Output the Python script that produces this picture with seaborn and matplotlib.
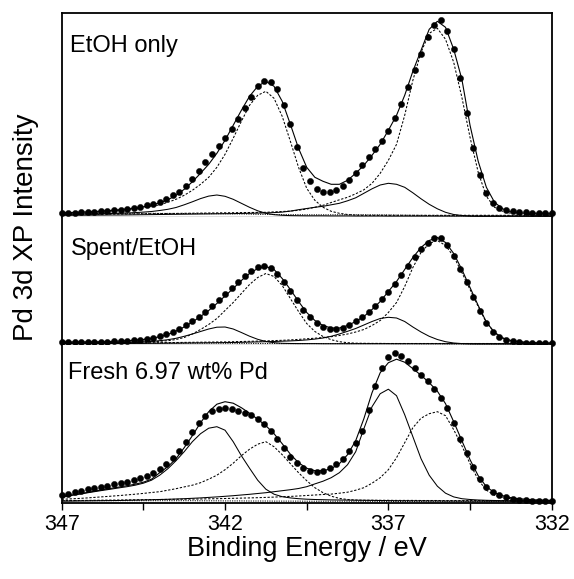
import numpy as np
import pandas as pd
import matplotlib
matplotlib.use("Agg")
import matplotlib.pyplot as plt
import seaborn as sns

# ---------------- energy axes (eV) ----------------
E_DATA = [347.0, 346.8, 346.6, 346.4, 346.2, 346.0, 345.8, 345.6, 345.4, 345.2,
          345.0, 344.8, 344.6, 344.4, 344.2, 344.0, 343.8, 343.6, 343.4, 343.2,
          343.0, 342.8, 342.6, 342.4, 342.2, 342.0, 341.8, 341.6, 341.4, 341.2,
          341.0, 340.8, 340.6, 340.4, 340.2, 340.0, 339.8, 339.6, 339.4, 339.2,
          339.0, 338.8, 338.6, 338.4, 338.2, 338.0, 337.8, 337.6, 337.4, 337.2,
          337.0, 336.8, 336.6, 336.4, 336.2, 336.0, 335.8, 335.6, 335.4, 335.2,
          335.0, 334.8, 334.6, 334.4, 334.2, 334.0, 333.8, 333.6, 333.4, 333.2,
          333.0, 332.8, 332.6, 332.4, 332.2, 332.0]
E_FIT = [347.00, 346.75, 346.50, 346.25, 346.00, 345.75, 345.50, 345.25,
         345.00, 344.75, 344.50, 344.25, 344.00, 343.75, 343.50, 343.25,
         343.00, 342.75, 342.50, 342.25, 342.00, 341.75, 341.50, 341.25,
         341.00, 340.75, 340.50, 340.25, 340.00, 339.75, 339.50, 339.25,
         339.00, 338.75, 338.50, 338.25, 338.00, 337.75, 337.50, 337.25,
         337.00, 336.75, 336.50, 336.25, 336.00, 335.75, 335.50, 335.25,
         335.00, 334.75, 334.50, 334.25, 334.00, 333.75, 333.50, 333.25,
         333.00, 332.75, 332.50, 332.25, 332.00]

# ---------------- EtOH only ----------------
TOP_DATA = [4.5, 4.6, 4.8, 5.0, 5.3, 5.6, 6.0, 6.5, 7.0, 7.5,
            8.2, 9.2, 10.5, 12, 13.8, 15.8, 18.5, 22, 25.5, 31,
            38, 46, 55, 63, 71, 79.5, 88.5, 98, 109, 120,
            131, 136, 135, 128, 112, 93, 70, 49, 36, 28,
            25, 25, 27, 31, 37, 44, 52, 60, 68, 76,
            86, 99, 113, 130, 147, 163, 180, 192, 197, 186,
            168, 139, 104, 69, 42, 24, 14, 9.5, 7.5, 6.2,
            5.5, 5.0, 4.8, 4.6, 4.4, 4.3]
TOP_ENV = [4.5, 4.7, 5.0, 5.3, 5.7, 6.2, 6.8, 7.4,
           8.2, 9.2, 10.5, 12.3, 14.5, 17.5, 22, 28,
           35.5, 44, 53, 64, 77, 92, 107, 121,
           131, 136, 131, 116, 93, 69, 50, 40,
           36, 33, 33, 37, 44, 52, 62, 73,
           87, 102, 122, 146, 167, 188, 196, 190,
           168, 138, 92, 56, 30, 15, 8.5, 5.5,
           4.5, 4.0, 4.0, 4.0, 4.0]
TOP_D1 = [3.8, 4.0, 4.2, 4.6, 5.0, 5.6, 6.3, 7.0,
          7.6, 8.6, 9.8, 11.0, 12.5, 15, 18, 22,
          27, 33, 40, 50, 63, 79, 96, 112,
          122, 126, 119, 101, 76, 50, 29, 17,
          10, 6, 4, 2.8, 2.2, 2.0, 2.0, 2.0,
          2.0, 2.0, 2.0, 2.0, 2.0, 2.0, 2.0, 2.0,
          2.0, 2.0, 2.0, 2.0, 2.0, 2.0, 2.0, 2.0,
          2.0, 2.0, 2.0, 2.0, 2.0]
TOP_D2 = [2.5, 2.6, 2.7, 2.8, 2.9, 3.0, 3.1, 3.2,
          3.3, 3.4, 3.5, 3.6, 3.7, 3.8, 3.9, 4.0,
          4.1, 4.2, 4.3, 4.4, 4.5, 4.6, 4.7, 4.8,
          4.9, 5.0, 5.4, 5.8, 6.2, 7.0, 8.3, 10,
          12, 14.8, 17.5, 20, 23.5, 27.5, 34, 44,
          57, 73, 102, 137, 165, 184, 189, 178,
          155, 120, 80, 45, 21, 10, 6, 4.0,
          3.2, 2.8, 2.6, 2.5, 2.5]
TOP_S1 = [3.0, 3.1, 3.2, 3.3, 3.4, 3.6, 3.8, 4.0,
          4.3, 4.7, 5.2, 5.8, 6.8, 8.0, 9.8, 12.5,
          15.5, 18.7, 21.2, 22.3, 21.0, 18.0, 14.0, 10.0,
          6.5, 4.0, 2.6, 2.0, 1.7, 1.6, 1.5, 1.5,
          1.5, 1.4, 1.4, 1.4, 1.3, 1.3, 1.3, 1.3,
          1.2, 1.2, 1.2, 1.2, 1.2, 1.2, 1.2, 1.2,
          1.2, 1.2, 1.2, 1.2, 1.2, 1.2, 1.2, 1.2,
          1.2, 1.2, 1.2, 1.2, 1.2]
TOP_S2 = [2.0, 2.0, 2.1, 2.1, 2.2, 2.2, 2.3, 2.3,
          2.4, 2.5, 2.6, 2.7, 2.8, 2.9, 3.0, 3.1,
          3.2, 3.3, 3.4, 3.5, 3.6, 3.7, 3.9, 4.0,
          4.2, 4.4, 4.7, 5.2, 6.2, 7.6, 8.8, 10.0,
          11.0, 12.5, 14.0, 16.5, 19.5, 24, 28.5, 32.3,
          34, 33, 30, 24.5, 18.5, 13, 8.5, 5.0,
          2.8, 1.8, 1.2, 1.0, 1.0, 1.0, 1.0, 1.0,
          1.0, 1.0, 1.0, 1.0, 1.0]
TOP_BG = [4.0, 4.0, 4.0, 4.0, 4.0, 4.0, 4.0, 4.0,
          4.0, 4.0, 4.0, 4.0, 3.9, 3.9, 3.8, 3.8,
          3.7, 3.7, 3.6, 3.6, 3.5, 3.4, 3.3, 3.2,
          3.0, 2.9, 2.8, 2.7, 2.6, 2.6, 2.5, 2.5,
          2.5, 2.5, 2.5, 2.5, 2.5, 2.5, 2.4, 2.4,
          2.3, 2.2, 2.1, 2.0, 1.9, 1.8, 1.7, 1.6,
          1.5, 1.5, 1.5, 1.5, 1.5, 1.5, 1.5, 1.5,
          1.5, 1.5, 1.5, 1.5, 1.5]

# ---------------- Spent/EtOH ----------------
MID_DATA = [2.2, 2.3, 2.3, 2.4, 2.5, 2.6, 2.7, 2.9, 3.1, 3.4,
            3.8, 4.3, 5.0, 5.8, 7.0, 8.5, 10.5, 13, 16, 19.5,
            24, 28, 33, 38.5, 45, 51, 57, 63, 69, 74,
            77.5, 78.5, 76.5, 71, 63, 54, 45, 35, 27.5, 22,
            17.5, 15.3, 15.5, 17, 20, 23.5, 27.5, 32.5, 38.5, 45.5,
            53, 61, 70, 79, 88, 96, 102, 106.5, 106.5, 100,
            89, 76, 63, 48, 34, 21.5, 13, 8, 5, 3.5,
            2.6, 2.0, 1.8, 1.6, 1.4, 1.3]
MID_ENV = [2.5, 2.5, 2.6, 2.6, 2.7, 2.8, 3.0, 3.3,
           3.7, 4.2, 5.0, 6.2, 7.8, 10, 13.5, 17.5,
           22.5, 28, 34, 41, 48.5, 56, 64, 71,
           76, 78, 75, 66, 55, 43, 32, 24,
           19, 16.5, 16.5, 19, 23, 28, 35, 43,
           53, 63, 75, 87, 97, 104, 107, 102,
           91, 75, 57, 39, 22.5, 12, 6.5, 4,
           2.8, 2.2, 1.8, 1.6, 1.5]
MID_D1 = [1.5, 1.5, 1.6, 1.6, 1.7, 1.8, 1.9, 2.0,
          2.1, 2.3, 2.5, 2.8, 3.2, 3.8, 5.0, 7.0,
          10.5, 15, 20, 26, 34, 42, 51, 60,
          67, 71, 68, 59, 46, 33, 21, 13,
          8, 4.8, 2.8, 1.8, 1.3, 1.2, 1.1, 1.1,
          1.0, 1.0, 1.0, 1.0, 1.0, 1.0, 1.0, 1.0,
          1.0, 1.0, 1.0, 1.0, 1.0, 1.0, 1.0, 1.0,
          1.0, 1.0, 1.0, 1.0, 1.0]
MID_D2 = [1.0, 1.0, 1.1, 1.1, 1.2, 1.2, 1.3, 1.3,
          1.4, 1.5, 1.6, 1.7, 1.8, 1.9, 2.0, 2.1,
          2.2, 2.3, 2.4, 2.5, 2.6, 2.8, 3.0, 3.2,
          3.4, 3.6, 3.9, 4.2, 4.6, 5.1, 5.7, 6.3,
          7.0, 7.8, 9.0, 10.5, 12.5, 15, 19, 24,
          32, 42, 58, 77, 92, 101, 104, 99,
          88, 72, 55, 38, 22, 12, 6.5, 3.8,
          2.5, 1.8, 1.4, 1.2, 1.1]
MID_S1 = [1.5, 1.5, 1.5, 1.6, 1.6, 1.7, 1.8, 1.9,
          2.0, 2.3, 2.6, 3.1, 3.8, 4.8, 6.2, 8.2,
          10.5, 13, 15.5, 17.3, 17.5, 15.5, 12, 8.3,
          5.2, 3.0, 1.8, 1.2, 1.0, 0.9, 0.9, 0.9,
          0.8, 0.8, 0.8, 0.8, 0.8, 0.8, 0.8, 0.8,
          0.8, 0.8, 0.8, 0.8, 0.8, 0.8, 0.8, 0.8,
          0.8, 0.8, 0.8, 0.8, 0.8, 0.8, 0.8, 0.8,
          0.8, 0.8, 0.8, 0.8, 0.8]
MID_S2 = [0.8, 0.8, 0.8, 0.9, 0.9, 0.9, 1.0, 1.0,
          1.0, 1.1, 1.1, 1.2, 1.2, 1.3, 1.3, 1.4,
          1.5, 1.6, 1.7, 1.8, 1.9, 2.0, 2.2, 2.4,
          2.6, 2.8, 3.0, 3.3, 3.6, 4.0, 4.6, 5.4,
          6.5, 8.2, 10.5, 13.2, 16, 19.5, 23, 26,
          27.2, 26.5, 23, 17.5, 12.5, 8.2, 5.0, 2.8,
          1.5, 0.9, 0.6, 0.5, 0.5, 0.5, 0.5, 0.5,
          0.5, 0.5, 0.5, 0.5, 0.5]
MID_BG = [1.5, 1.5, 1.5, 1.5, 1.5, 1.5, 1.5, 1.5,
          1.5, 1.5, 1.5, 1.5, 1.5, 1.4, 1.4, 1.4,
          1.4, 1.3, 1.3, 1.3, 1.2, 1.2, 1.1, 1.1,
          1.0, 1.0, 1.0, 0.9, 0.9, 0.9, 0.9, 0.9,
          0.9, 0.9, 0.9, 0.9, 0.9, 0.9, 0.9, 0.9,
          0.9, 0.8, 0.8, 0.8, 0.7, 0.7, 0.7, 0.6,
          0.6, 0.6, 0.6, 0.6, 0.6, 0.6, 0.6, 0.6,
          0.6, 0.6, 0.6, 0.6, 0.6]

# ---------------- Fresh 6.97 wt% Pd ----------------
BOT_DATA = [7.7, 9, 10.5, 12, 13.4, 14.6, 16, 17.2, 18.5, 19.8,
            21, 22.5, 24.5, 27, 30, 34, 39, 45, 52, 61,
            71, 80, 87, 91.5, 94, 94.5, 93.5, 92, 90, 87.5,
            84, 78.5, 72, 64, 55, 46, 40, 35, 32, 31,
            32, 34.5, 38.5, 44, 52, 60, 72, 93, 117, 135,
            146, 149.5, 147, 141.5, 135, 128, 121.5, 114, 105, 95,
            80, 64, 49.5, 35.5, 24, 16, 11, 8, 5.5, 4,
            3.2, 2.6, 2.2, 2.0, 1.8, 1.7]
BOT_ENV = [5.5, 7, 8.5, 10, 11.5, 13, 14.3, 15.6,
           17, 18.5, 20.5, 23.5, 30, 36, 44, 55,
           67, 80, 91, 98.5, 101, 99.5, 95, 89.5,
           83.5, 77, 69, 59, 48.5, 40, 34.5, 32,
           32, 34, 39, 48, 62, 84, 110, 130,
           140, 143.5, 140.5, 134, 127.5, 120, 111.5, 99,
           81, 62, 43, 27, 16, 10, 7, 5,
           4, 3.3, 2.8, 2.5, 2.3]
BOT_SA = [6.5, 7.5, 8.5, 9.7, 11, 12.3, 13.5, 14.8,
          16, 17.5, 19.5, 22.5, 27.5, 34, 42, 51,
          61, 69, 74.5, 76, 72.5, 61, 47, 34.5,
          22.5, 13.5, 8.5, 6, 4.8, 4.0, 3.5, 3.2,
          3.0, 2.8, 2.7, 2.6, 2.5, 2.4, 2.3, 2.2,
          2.1, 2.0, 2.0, 1.9, 1.9, 1.8, 1.8, 1.7,
          1.7, 1.6, 1.6, 1.6, 1.5, 1.5, 1.5, 1.5,
          1.5, 1.5, 1.5, 1.5, 1.5]
BOT_SB = [1.5, 1.6, 1.7, 1.8, 1.9, 2.0, 2.1, 2.2,
          2.4, 2.6, 2.8, 3.0, 3.2, 3.4, 3.7, 4.0,
          4.4, 4.8, 5.3, 5.8, 6.4, 7.0, 7.7, 8.4,
          9.2, 10, 11, 12, 13, 14.2, 16, 18.8,
          21.5, 25, 30, 38, 51, 74, 96, 109,
          113.5, 107, 88, 66, 44, 27.5, 16.5, 9.5,
          5.8, 4.0, 3.2, 2.7, 2.4, 2.2, 2.0, 1.9,
          1.8, 1.7, 1.7, 1.6, 1.6]
BOT_DC = [3.4, 3.8, 4.2, 4.7, 5.3, 5.9, 6.5, 7.1,
          7.8, 8.5, 9.3, 10.2, 11, 12.5, 14, 15.8,
          17.5, 20, 23.5, 27.5, 33, 39.5, 47, 53.5,
          58.5, 61, 56, 48, 39, 30, 22, 15,
          10, 6.5, 4.3, 3.2, 2.7, 2.5, 2.5, 2.4,
          2.4, 2.3, 2.3, 2.3, 2.2, 2.2, 2.2, 2.1,
          2.1, 2.1, 2.1, 2.1, 2.1, 2.1, 2.1, 2.1,
          2.0, 2.0, 2.0, 2.0, 2.0]
BOT_DD = [2.0, 2.1, 2.2, 2.3, 2.4, 2.5, 2.6, 2.7,
          2.8, 2.9, 3.0, 3.1, 3.2, 3.3, 3.4, 3.5,
          3.6, 3.7, 3.9, 4.0, 4.2, 4.4, 4.6, 4.8,
          5.0, 5.3, 5.6, 6.0, 6.3, 6.7, 7.2, 7.7,
          8.2, 8.6, 9.5, 10.5, 12.5, 15, 19.5, 25,
          33, 45, 60, 75, 84.5, 89, 91, 87,
          73, 57, 39, 23, 12.5, 7.5, 5.2, 4.0,
          3.2, 2.8, 2.5, 2.3, 2.2]
BOT_BG = [2.0, 2.0, 2.0, 2.0, 2.0, 2.0, 2.0, 2.0,
          2.0, 2.0, 2.0, 2.0, 2.0, 2.0, 2.0, 2.0,
          2.0, 1.9, 1.9, 1.9, 1.8, 1.8, 1.8, 1.7,
          1.7, 1.7, 1.6, 1.6, 1.6, 1.6, 1.5, 1.5,
          1.5, 1.5, 1.5, 1.5, 1.5, 1.4, 1.4, 1.3,
          1.3, 1.2, 1.2, 1.1, 1.1, 1.0, 1.0, 1.0,
          1.0, 1.0, 1.0, 1.0, 1.0, 1.0, 1.0, 1.0,
          1.0, 1.0, 1.0, 1.0, 1.0]

LABELS = ["EtOH only", "Spent/EtOH", "Fresh 6.97 wt% Pd"]
MAJOR_TICKS = [347, 342, 337, 332]
MINOR_TICKS = [344.5, 339.5, 334.5]
X_LABEL = "Binding Energy / eV"
Y_LABEL = "Pd 3d XP Intensity"

# ---------------- style ----------------
sns.set_theme(style="ticks")
plt.rcParams["font.family"] = ["Liberation Sans", "DejaVu Sans"]

W, H = 574, 579
fig = plt.figure(figsize=(W / 100, H / 100), dpi=100)

left_px, right_px = 61.7, 551.7
panels = [  # (top px, bottom px)
    (13.3, 217.3),
    (217.3, 344.5),
    (344.5, 502.7),
]

spectra = [
    dict(data=TOP_DATA, env=TOP_ENV, solid=[TOP_S1, TOP_S2], dashed=[TOP_D1, TOP_D2], bg=TOP_BG),
    dict(data=MID_DATA, env=MID_ENV, solid=[MID_S1, MID_S2], dashed=[MID_D1, MID_D2], bg=MID_BG),
    dict(data=BOT_DATA, env=BOT_ENV, solid=[BOT_SA, BOT_SB], dashed=[BOT_DC, BOT_DD], bg=BOT_BG),
]
label_pos = [(0.017, 0.810), (0.018, 0.704), (0.012, 0.780)]

dash_pat = (0, (2.2, 1.6))
axes = []
for i, ((tp, bp), spec) in enumerate(zip(panels, spectra)):
    ax = fig.add_axes([left_px / W, 1 - bp / H, (right_px - left_px) / W, (bp - tp) / H])
    axes.append(ax)
    # background
    sns.lineplot(x=E_FIT, y=spec["bg"], ax=ax, color="black", lw=0.7,
                 linestyle=(0, (1.2, 1.2)), errorbar=None, sort=False)
    for comp in spec["dashed"]:
        sns.lineplot(x=E_FIT, y=comp, ax=ax, color="black", lw=0.75,
                     linestyle=dash_pat, errorbar=None, sort=False)
    for comp in spec["solid"]:
        sns.lineplot(x=E_FIT, y=comp, ax=ax, color="black", lw=0.75,
                     errorbar=None, sort=False)
    sns.lineplot(x=E_FIT, y=spec["env"], ax=ax, color="black", lw=0.8,
                 errorbar=None, sort=False)
    sns.scatterplot(x=E_DATA, y=spec["data"], ax=ax, color="black", s=20,
                    edgecolor="black", linewidth=0.3, zorder=5, clip_on=False)
    ax.set_xlim(347, 332)
    ax.set_ylim(0, bp - tp)
    ax.set_yticks([])
    ax.set_xlabel("")
    ax.set_ylabel("")
    ax.text(label_pos[i][0], label_pos[i][1], LABELS[i], transform=ax.transAxes,
            fontsize=17, ha="left", va="baseline", color="black")
    for s in ["left", "right", "top", "bottom"]:
        ax.spines[s].set_color("black")
        ax.spines[s].set_linewidth(1.3)
    if i > 0:
        ax.spines["top"].set_visible(False)
    if i < 2:
        ax.spines["bottom"].set_linewidth(0.9)
        ax.tick_params(axis="x", which="both", bottom=False, labelbottom=False)
    ax.set_facecolor("white")

axb = axes[2]
axb.set_xticks(MAJOR_TICKS)
axb.set_xticklabels([str(t) for t in MAJOR_TICKS])
axb.set_xticks(MINOR_TICKS, minor=True)
axb.tick_params(axis="x", which="both", direction="out", length=4.8, width=1.0,
                color="black", pad=3.2, labelsize=15.5, labelcolor="black")

fig.text(307 / W, 1 - 556 / H, X_LABEL, ha="center", va="baseline", fontsize=19.5, color="black")
fig.text(26 / W, 1 - 227 / H, Y_LABEL, ha="center", va="center", rotation=90,
         fontsize=20, color="black")

fig.savefig("out.png", dpi=100, facecolor="white")
